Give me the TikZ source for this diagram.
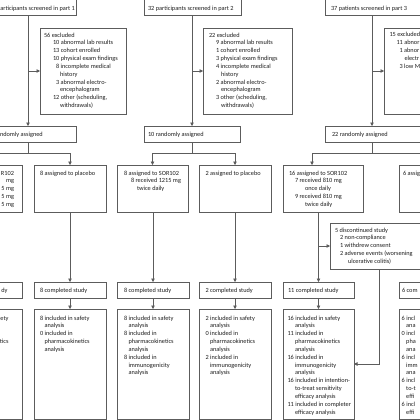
\documentclass[tikz,border=0pt]{standalone}
\usepackage{fontspec}
\setmainfont{Carlito}
\usetikzlibrary{arrows.meta}
\definecolor{linec}{gray}{0.36}
\definecolor{txtc}{gray}{0.12}
\newcommand\mkbox[5]{\node[box, minimum width={((#4)-(#2))*1pt}, minimum height={((#5)-(#3))*1pt}] (#1) at ({((#2)+(#4))/2},{((#3)+(#5))/2}) {};}
\newcommand\tx[4]{\node[txt] (#1) at (#2,{#3-5}) {\rule{0pt}{5pt}#4};}
\newcommand\txr[4]{\node[rtxt] (#1) at (#2,{#3-5}) {\rule{0pt}{5pt}#4};}
\begin{document}
\begin{tikzpicture}[x=1pt,y=-1pt,
  box/.style={draw=linec, line width=0.6pt, rectangle, inner sep=0pt, outer sep=0pt},
  txt/.style={inner sep=0pt, outer sep=0pt, align=left, anchor=north west, font=\fontsize{6.3}{7.85}\selectfont, text=txtc},
  rtxt/.style={txt, align=right, anchor=north east},
  ln/.style={draw=linec, line width=0.6pt},
  arr/.style={ln, -{Triangle[length=3.5pt,width=3.5pt]}}]
\useasboundingbox (0,0) rectangle (420,420);
\clip (0,0) rectangle (420,420);
\fill[white] (0,0) rectangle (420,420);

% screening
\mkbox{S1}{-10}{-10}{76}{15.5}
\mkbox{S2}{144}{-10}{241}{15.5}
\mkbox{S3}{325}{-10}{430}{15.5}
\tx{ts1}{0.3}{10.5}{articipants screened in part 1}
\tx{ts2}{148}{10.5}{32 participants screened in part 2}
\tx{ts3}{331}{10.5}{37 patients screened in part 3}

% excluded
\mkbox{E1}{40}{28}{126}{114}
\mkbox{E2}{203}{28}{292}{114}
\mkbox{E3}{384}{28}{430}{114}
\tx{te1}{44}{37}{56 excluded\\\hspace*{9pt}10 abnormal lab results\\\hspace*{9pt}13 cohort enrolled\\\hspace*{9pt}10 physical exam findings\\\hspace*{12pt}8 incomplete medical\\\hspace*{16pt}history\\\hspace*{12pt}3 abnormal electro-\\\hspace*{16pt}encephalogram\\\hspace*{9pt}12 other (scheduling,\\\hspace*{16pt}withdrawals)}
\tx{te2}{209}{37}{22 excluded\\\hspace*{7pt}9 abnormal lab results\\\hspace*{7pt}1 cohort enrolled\\\hspace*{7pt}3 physical exam findings\\\hspace*{7pt}4 incomplete medical\\\hspace*{12pt}history\\\hspace*{7pt}2 abnormal electro-\\\hspace*{12pt}encephalogram\\\hspace*{7pt}3 other (scheduling,\\\hspace*{12pt}withdrawals)}
\tx{te3}{389.5}{37}{15 excluded\\\hspace*{7pt}11 abnor\\\hspace*{10pt}1 abnor\\\hspace*{15pt}electr\\\hspace*{10pt}3 low M}

% randomised
\mkbox{R1}{-10}{126}{76}{142}
\mkbox{R2}{144}{126}{240}{142}
\mkbox{R3}{325}{126}{430}{142}
\tx{tr1}{0}{136}{ndomly assigned}
\tx{tr2}{148}{136}{10 randomly assigned}
\tx{tr3}{332}{136}{22 randomly assigned}

% allocation
\mkbox{A1}{-50}{165}{22}{212}
\mkbox{P1}{34}{165}{106}{212}
\mkbox{A2}{117}{165}{188}{212}
\mkbox{P2}{199}{165}{271}{212}
\mkbox{A3}{283}{165}{363}{212}
\mkbox{P3}{399}{165}{475}{212}
\txr{ta1}{14}{175}{R102\\mg\\5 mg\\5 mg\\5 mg}
\tx{tp1}{40}{175}{8 assigned to placebo}
\tx{ta2}{124}{175}{8 assigned to SOR102\\\hspace*{7pt}8 received 1215 mg\\\hspace*{13pt}twice daily}
\tx{tp2}{205.5}{175}{2 assigned to placebo}
\tx{ta3}{289}{175}{16 assigned to SOR102\\\hspace*{6pt}7 received 810 mg\\\hspace*{16pt}once daily\\\hspace*{6pt}9 received 810 mg\\\hspace*{16pt}twice daily}
\tx{tp3}{403}{175}{6 assig}

% discontinued
\mkbox{D}{330}{223}{430}{269}
\tx{td}{335}{232}{5 discontinued study\\\hspace*{5pt}2 non-compliance\\\hspace*{5pt}1 withdrew consent\\\hspace*{5pt}2 adverse events (worsening\\\hspace*{13pt}ulcerative colitis)}

% completed
\mkbox{C1}{-50}{282}{22}{298}
\mkbox{C1p}{34}{282}{106}{298}
\mkbox{C2a}{117}{282}{189}{298}
\mkbox{C2p}{199}{282}{271}{298}
\mkbox{C3a}{283}{282}{354}{298}
\mkbox{C3p}{399}{282}{475}{298}
\txr{tc1}{7.5}{292}{dy}
\tx{tc1p}{40}{292}{8 completed study}
\tx{tc2a}{124}{292}{8 completed study}
\tx{tc2p}{205.5}{292}{2 completed study}
\tx{tc3a}{288}{292}{11 completed study}
\tx{tc3p}{402}{292}{6 com}

% analysis
\mkbox{B1}{-50}{309}{22}{419}
\mkbox{B1p}{34}{309}{106}{419}
\mkbox{B2a}{117}{309}{189}{419}
\mkbox{B2p}{199}{309}{271}{419}
\mkbox{B3}{283}{309}{354}{419}
\mkbox{B3p}{399}{309}{475}{419}
\txr{tb1a}{8.5}{320}{ety}
\txr{tb1b}{8.5}{343.6}{tics}
\tx{tb1p}{40}{320}{8 included in safety\\\hspace*{4.5pt}analysis\\0 included in\\\hspace*{4.5pt}pharmacokinetics\\\hspace*{4.5pt}analysis}
\tx{tb2a}{124}{320}{8 included in safety\\\hspace*{4.5pt}analysis\\8 included in\\\hspace*{4.5pt}pharmacokinetics\\\hspace*{4.5pt}analysis\\8 included in\\\hspace*{4.5pt}immunogenicity\\\hspace*{4.5pt}analysis}
\tx{tb2p}{205.5}{320}{2 included in safety\\\hspace*{4.5pt}analysis\\0 included in\\\hspace*{4.5pt}pharmacokinetics\\\hspace*{4.5pt}analysis\\2 included in\\\hspace*{4.5pt}immunogenicity\\\hspace*{4.5pt}analysis}
\tx{tb3}{287.5}{320}{16 included in safety\\\hspace*{7.5pt}analysis\\11 included in\\\hspace*{7.5pt}pharmacokinetics\\\hspace*{7.5pt}analysis\\16 included in\\\hspace*{7.5pt}immunogenicity\\\hspace*{7.5pt}analysis\\16 included in intention-\\\hspace*{7.5pt}to-treat sensitivity\\\hspace*{7.5pt}efficacy analysis\\11 included in completer\\\hspace*{7.5pt}efficacy analysis}
\tx{tb3p}{401.7}{320}{6 incl\\\hspace*{4.5pt}ana\\0 incl\\\hspace*{4.5pt}pha\\\hspace*{4.5pt}ana\\6 incl\\\hspace*{4.5pt}imm\\\hspace*{4.5pt}ana\\6 incl\\\hspace*{4.5pt}to-t\\\hspace*{4.5pt}effi\\6 incl\\\hspace*{4.5pt}effi}

% connectors: screening
\coordinate (v1) at (28,0);
\coordinate (v2) at (192,0);
\coordinate (v3) at (372,0);
\draw[arr] (S1.south -| v1) -- (R1.north -| v1);
\draw[arr] (S2.south -| v2) -- (R2.north -| v2);
\draw[arr] (S3.south -| v3) -- (R3.north -| v3);
\draw[arr] (v1 |- E1.west) -- (E1.west);
\draw[arr] (v2 |- E2.west) -- (E2.west);
\draw[arr] (v3 |- E3.west) -- (E3.west);

% connectors: allocation
\coordinate (j1) at (28,153);
\coordinate (j2) at (192,153);
\coordinate (j3) at (372,153);
\coordinate (k3) at (312,0);
\draw[ln] (R1.south -| j1) -- (j1);
\draw[ln] (R2.south -| j2) -- (j2);
\draw[ln] (R3.south -| j3) -- (j3);
\draw[arr] (j1) -| (A1.north);
\draw[arr] (j1) -| (P1.north);
\draw[arr] (j2) -| (A2.north);
\draw[arr] (j2) -| (P2.north);
\draw[arr] (j3) -| (A3.north -| k3);
\draw[arr] (j3) -| (P3.north);

% to completed
\draw[arr] (A1.south) -- (C1.north);
\draw[arr] (P1.south -| C1p.north) -- (C1p.north);
\draw[arr] (A2.south -| C2a.north) -- (C2a.north);
\draw[arr] (P2.south -| C2p.north) -- (C2p.north);
\draw[arr] (A3.south -| C3a.north) -- (C3a.north);
\draw[arr] (P3.south -| C3p.north) -- (C3p.north);
\draw[arr] (C3a.north |- D.west) -- (D.west);

% to analysis
\draw[arr] (C1.south) -- (B1.north);
\draw[arr] (C1p.south) -- (B1p.north);
\draw[arr] (C2a.south) -- (B2a.north);
\draw[arr] (C2p.south) -- (B2p.north);
\draw[arr] (C3a.south) -- (B3.north);
\draw[arr] (C3p.south) -- (B3p.north);
\coordinate (v4) at (379,0);
\draw[arr] (D.south -| v4) |- (B3.east);
\end{tikzpicture}
\end{document}
